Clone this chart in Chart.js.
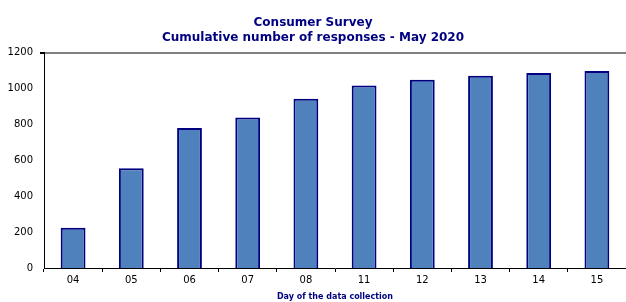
<!DOCTYPE html>
<html>
<head>
<meta charset="utf-8">
<script src="https://cdn.jsdelivr.net/npm/chart.js@4.4.1/dist/chart.umd.min.js"></script>
<style>
  html, body { margin: 0; padding: 0; background: #fff; }
  #wrap { width: 626px; height: 302px; }
</style>
</head>
<body>
<div id="wrap"><canvas id="surveyChart"></canvas></div>
<script>
// Data
const days = ['04', '05', '06', '07', '08', '11', '12', '13', '14', '15'];
const responses = [224, 556, 780, 839, 944, 1017, 1050, 1072, 1087, 1098];
const yTicks = [0, 200, 400, 600, 800, 1000, 1200];

const navy = '#000080';

// Survey Chart
const ctx = document.getElementById('surveyChart').getContext('2d');
const surveyChart = new Chart(ctx, {
    type: 'bar',
    data: {
        labels: days,
        datasets: [{
            label: 'Responses',
            data: responses,
            backgroundColor: '#4F81BD',
            borderColor: navy,
            borderWidth: 2,
            categoryPercentage: 0.82,
            barPercentage: 0.52
        }]
    },
    options: {
        responsive: true,
        maintainAspectRatio: false,
        animation: false,
        layout: {
            padding: { left: 0, right: 0, top: 0, bottom: 0 }
        },
        plugins: {
            legend: { display: false },
            tooltip: { enabled: false },
            title: {
                display: true,
                text: ['Consumer Survey', 'Cumulative number of responses - May 2020'],
                color: navy,
                font: { family: 'DejaVu Sans', size: 12, weight: 'bold' },
                lineHeight: 1.3,
                padding: { top: 16, bottom: 8 }
            }
        },
        scales: {
            y: {
                min: 0,
                max: 1200,
                afterBuildTicks: function(scale) {
                    scale.ticks = yTicks.map(v => ({ value: v }));
                },
                afterFit: function(scale) {
                    scale.width = 44;
                },
                border: { display: true, color: '#000', width: 1 },
                grid: {
                    color: c => c.tick && c.tick.value === 1200 ? '#808080' : 'rgba(0,0,0,0)',
                    lineWidth: c => c.tick && c.tick.value === 1200 ? 2 : 0,
                    tickColor: '#000',
                    tickLength: 4,
                    drawOnChartArea: true
                },
                ticks: {
                    color: '#000',
                    padding: 7,
                    font: { family: 'DejaVu Sans', size: 10 },
                    callback: v => String(v)
                }
            },
            x: {
                offset: true,
                afterFit: function(scale) {
                    scale.height = 34;
                },
                border: { display: true, color: '#000', width: 1 },
                grid: {
                    offset: true,
                    color: 'rgba(0,0,0,0)',
                    tickColor: '#000',
                    tickLength: 4
                },
                ticks: {
                    color: '#000',
                    padding: 2,
                    maxRotation: 0,
                    font: { family: 'DejaVu Sans', size: 10 }
                },
                title: {
                    display: true,
                    text: 'Day of the data collection',
                    color: navy,
                    padding: { top: 0, bottom: 0 },
                    font: { family: 'DejaVu Sans', size: 8, weight: 'bold' }
                }
            }
        }
    }
});
</script>
</body>
</html>
